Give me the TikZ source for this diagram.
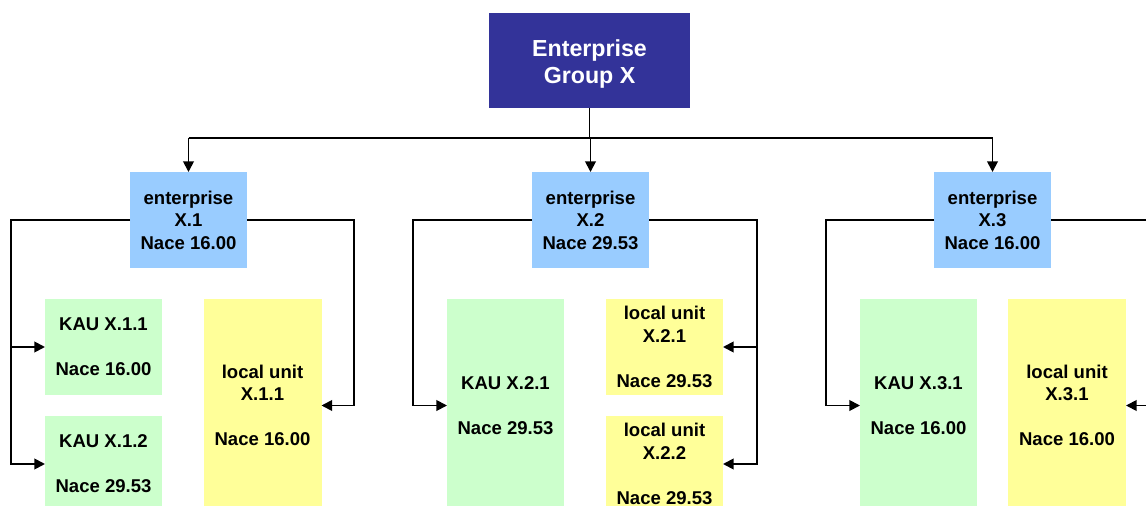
\documentclass[tikz,border=0pt]{standalone}
\usepackage{fontspec}
\setmainfont{Liberation Sans}
\usetikzlibrary{arrows.meta}
\definecolor{topblue}{HTML}{333399}
\definecolor{entblue}{HTML}{99CCFF}
\definecolor{kaugreen}{HTML}{CCFFCC}
\definecolor{luyellow}{HTML}{FFFF99}
\tikzset{
  box/.style={rectangle, inner sep=0pt, outer sep=0pt, align=center,
    font=\fontsize{13.9}{16.9}\selectfont\bfseries, text=black},
  topbox/.style={box, fill=topblue, text=white, minimum width=150.75pt, minimum height=71.25pt,
    font=\fontsize{17.4}{20.25}\selectfont\bfseries, text height=34.5pt, text depth=0pt},
  entbox/.style={box, fill=entblue, minimum width=87.75pt, minimum height=72pt},
  kaubox/.style={box, fill=kaugreen, minimum width=87.75pt, minimum height=72pt},
  kautall/.style={box, fill=kaugreen, minimum width=87.75pt, minimum height=159.75pt},
  lubox/.style={box, fill=luyellow, minimum width=87.75pt, minimum height=72pt},
  lutall/.style={box, fill=luyellow, minimum width=88.5pt, minimum height=159.75pt},
  line/.style={draw=black, line width=1.4pt},
  conn/.style={line, -{Triangle[length=8pt,width=8pt]}}
}
\begin{document}
\begin{tikzpicture}[x=0.75pt, y=-0.75pt]
\useasboundingbox (0,0) rectangle (1146,506);
\clip (0,0) rectangle (1146,506);
\fill[white] (0,0) rectangle (1146,506);

\node[topbox] (top) at (589.5,60.5) {Enterprise\\Group X};

\node[entbox] (ent1) at (188.5,220) {enterprise\\X.1\\Nace 16.00};
\node[entbox] (ent2) at (590.5,220) {enterprise\\X.2\\Nace 29.53};
\node[entbox] (ent3) at (992.5,220) {enterprise\\X.3\\Nace 16.00};

\node[kaubox] (kau11) at (103.5,347) {KAU X.1.1\\[16.9pt]Nace 16.00};
\node[kaubox] (kau12) at (103.5,464) {KAU X.1.2\\[16.9pt]Nace 29.53};
\node[lutall] (lu11) at (262.5,405.5) {local unit\\X.1.1\\[16.9pt]Nace 16.00};

\node[kautall] (kau21) at (505.5,405.5) {KAU X.2.1\\[16.9pt]Nace 29.53};
\node[lubox] (lu21) at (664.5,347) {local unit\\X.2.1\\[16.9pt]Nace 29.53};
\node[lubox] (lu22) at (664.5,464) {local unit\\X.2.2\\[16.9pt]Nace 29.53};

\node[kautall] (kau31) at (918.5,405.5) {KAU X.3.1\\[16.9pt]Nace 16.00};
\node[lutall] (lu31) at (1067,405.5) {local unit\\X.3.1\\[16.9pt]Nace 16.00};

% bus coordinates
\coordinate (bus) at (0,138);
\coordinate (L1) at (11,0);
\coordinate (R1) at (354,0);
\coordinate (L2) at (413,0);
\coordinate (R2) at (757,0);
\coordinate (L3) at (826,0);
\coordinate (R3) at (1159,0);

% top level
\draw[line] (top.south) -- (top.south |- bus);
\draw[line] (ent1.north |- bus) -- (ent3.north |- bus);
\draw[conn] (ent1.north |- bus) -- (ent1.north);
\draw[conn] (ent2.north |- bus) -- (ent2.north);
\draw[conn] (ent3.north |- bus) -- (ent3.north);

% enterprise X.1
\draw[conn] (ent1.west) -- (ent1.west -| L1) |- (kau12.west);
\draw[conn] (kau11.west -| L1) -- (kau11.west);
\draw[conn] (ent1.east) -- (ent1.east -| R1) |- (lu11.east);

% enterprise X.2
\draw[conn] (ent2.west) -- (ent2.west -| L2) |- (kau21.west);
\draw[conn] (ent2.east) -- (ent2.east -| R2) |- (lu22.east);
\draw[conn] (lu21.east -| R2) -- (lu21.east);

% enterprise X.3
\draw[conn] (ent3.west) -- (ent3.west -| L3) |- (kau31.west);
\draw[conn] (ent3.east) -- (ent3.east -| R3) |- (lu31.east);
\end{tikzpicture}
\end{document}
